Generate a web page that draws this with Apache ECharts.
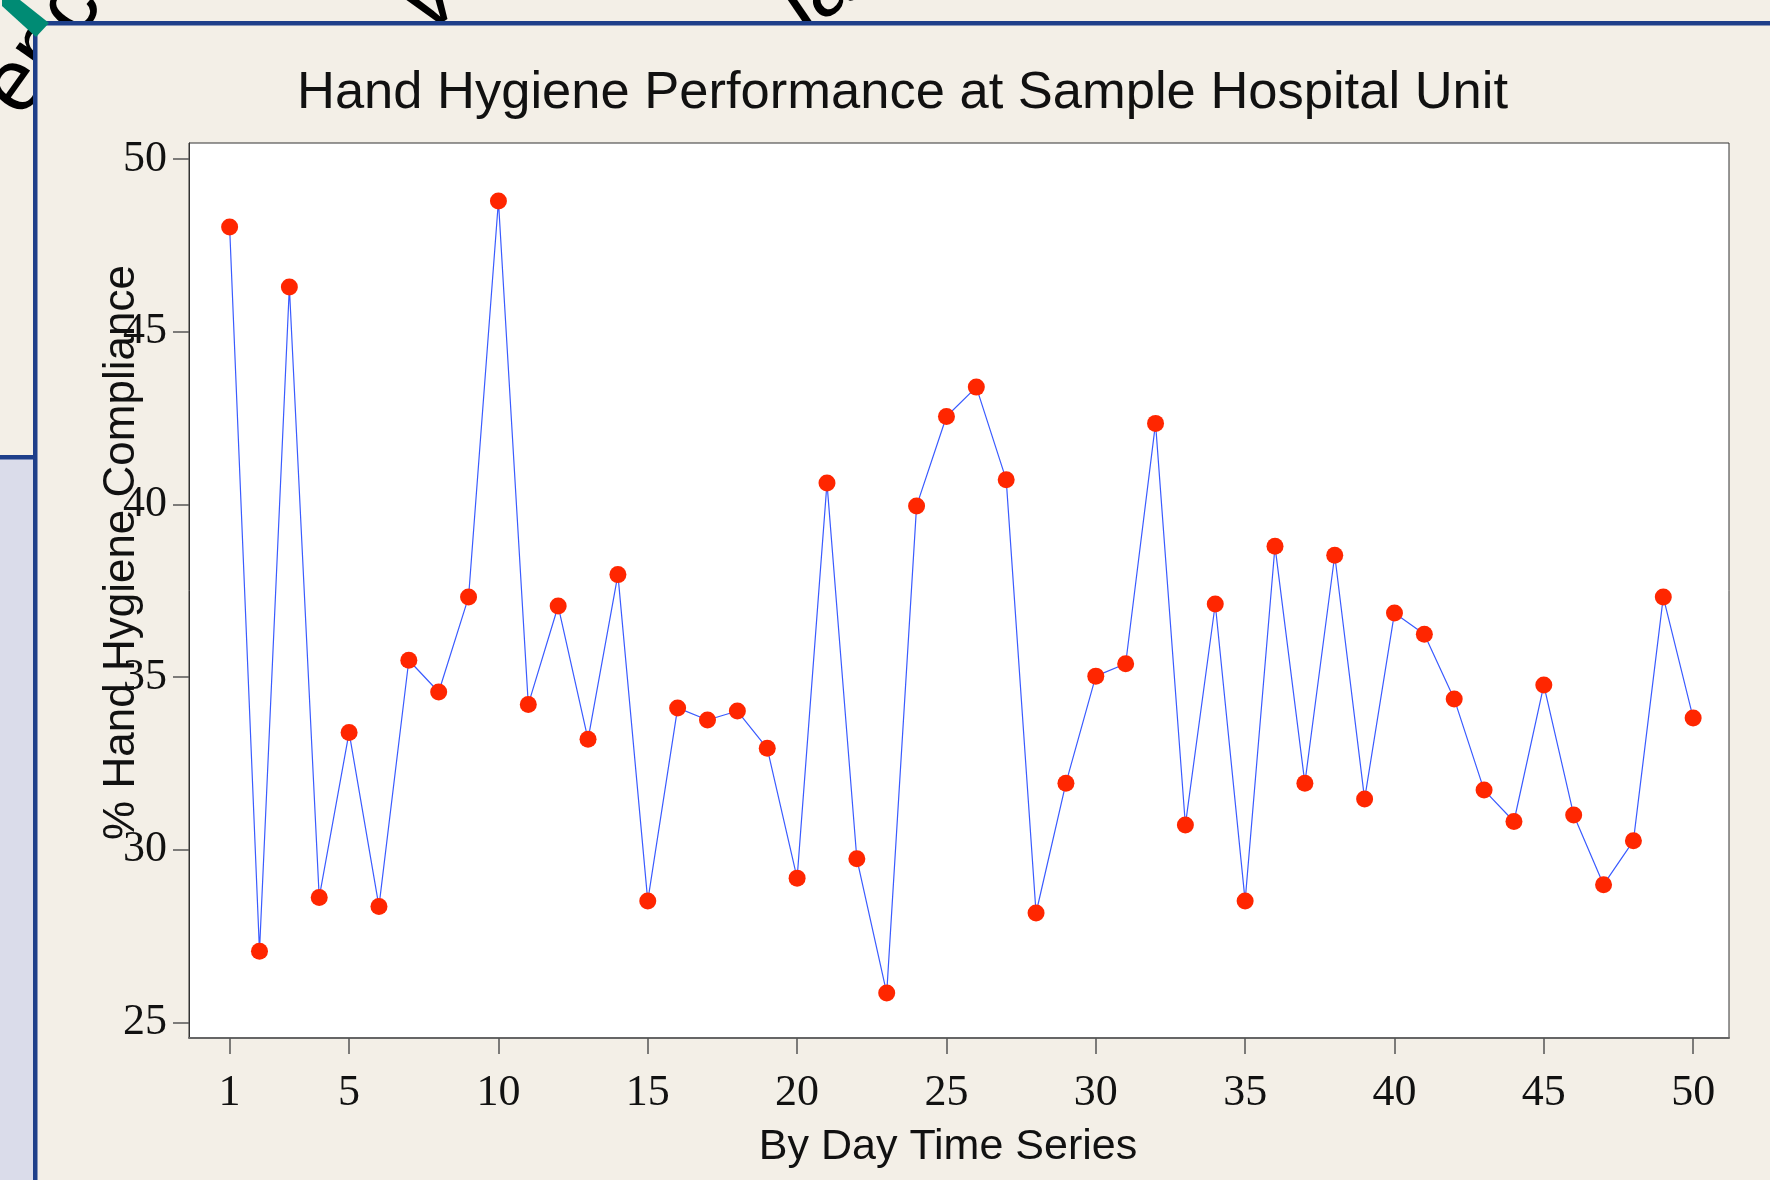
<!DOCTYPE html>
<html>
<head>
<meta charset="utf-8">
<title>Hand Hygiene Performance</title>
<script src="https://cdn.jsdelivr.net/npm/echarts@6/dist/echarts.min.js"></script>
<style>
  html, body { margin: 0; padding: 0; background: #F3EFE7; }
  #chart { width: 1770px; height: 1180px; }
</style>
</head>
<body>
<div id="chart"></div>
<script>
// day index and % compliance
const days = [1, 2, 3, 4, 5, 6, 7, 8, 9, 10,
  11, 12, 13, 14, 15, 16, 17, 18, 19, 20,
  21, 22, 23, 24, 25, 26, 27, 28, 29, 30,
  31, 32, 33, 34, 35, 36, 37, 38, 39, 40,
  41, 42, 43, 44, 45, 46, 47, 48, 49, 50];
const compliance = [48.04, 27.06, 46.30, 28.62, 33.40, 28.36, 35.49, 34.57, 37.32, 48.79,
  34.21, 37.06, 33.20, 37.97, 28.52, 34.11, 33.76, 34.02, 32.94, 29.18,
  40.62, 29.74, 25.85, 39.96, 42.55, 43.40, 40.72, 28.17, 31.93, 35.03,
  35.39, 42.35, 30.72, 37.12, 28.52, 38.79, 31.93, 38.53, 31.47, 36.86,
  36.24, 34.37, 31.73, 30.82, 34.77, 31.01, 28.99, 30.26, 37.32, 33.82];
const xTicks = [1, 5, 10, 15, 20, 25, 30, 35, 40, 45, 50];
const yTicks = [25, 30, 35, 40, 45, 50];

const chartDom = document.getElementById('chart');
const chart = echarts.init(chartDom);

const bg = '#F3EFE7';
const frameBlue = '#1E3F8A';

const option = {
  backgroundColor: bg,
  animation: false,
  title: {
    text: 'Hand Hygiene Performance at Sample Hospital Unit',
    left: 292,
    top: 62,
    textStyle: {
      fontFamily: 'Liberation Sans',
      fontWeight: 'normal',
      fontSize: 52.5,
      color: '#111'
    }
  },
  grid: {
    left: 189,
    top: 143,
    width: 1540,
    height: 895,
    show: true,
    backgroundColor: '#fff',
    borderColor: '#333',
    borderWidth: 1
  },
  xAxis: {
    type: 'value',
    min: -0.36,
    max: 51.2,
    name: 'By Day Time Series',
    nameLocation: 'middle',
    nameGap: 88,
    nameTextStyle: {
      fontFamily: 'Liberation Sans',
      fontSize: 43,
      color: '#111',
      padding: [0, 22, 0, 0]
    },
    axisLine: {onZero: false, lineStyle: {color: '#666', width: 2}},
    axisTick: {customValues: xTicks, length: 16, lineStyle: {color: '#555', width: 1.5}},
    axisLabel: {
      customValues: xTicks,
      margin: 33,
      fontFamily: 'Liberation Serif',
      fontSize: 44,
      color: '#111'
    },
    splitLine: {show: false}
  },
  yAxis: {
    type: 'value',
    min: 24.55,
    max: 50.47,
    name: '% Hand Hygiene Compliance',
    nameLocation: 'middle',
    nameGap: 45,
    nameMoveOverlap: false,
    nameTextStyle: {
      fontFamily: 'Liberation Sans',
      fontSize: 44,
      color: '#111',
      padding: [0, 0, 0, 76]
    },
    axisLine: {onZero: false, lineStyle: {color: '#333', width: 1}},
    axisTick: {customValues: yTicks, length: 16, lineStyle: {color: '#555', width: 1.5}},
    axisLabel: {
      customValues: yTicks,
      margin: 22,
      fontFamily: 'Liberation Serif',
      fontSize: 44,
      color: '#111'
    },
    splitLine: {show: false}
  },
  series: [{
    type: 'line',
    data: days.map((d, i) => [d, compliance[i]]),
    symbol: 'circle',
    symbolSize: 17,
    itemStyle: {color: '#FF2600'},
    lineStyle: {color: '#3A5BFF', width: 1.2}
  }],
  graphic: [
    // slide text peeking out behind the chart panel
    {type: 'text', x: -34, y: 80, rotation: 0.95, z: -30,
      style: {text: 'ence', font: '88px Liberation Sans', fill: '#000'}},
    {type: 'text', x: 437, y: 50, rotation: 0.6, z: -30,
      style: {text: 've', font: '88px Liberation Sans', fill: '#000', verticalAlign: 'bottom'}},
    {type: 'text', x: 815, y: 50, rotation: 0.6, z: -30,
      style: {text: 'la', font: '88px Liberation Sans', fill: '#000', verticalAlign: 'bottom'}},
    // panel that holds the chart
    {type: 'rect', z: -20, shape: {x: 36, y: 24, width: 1734, height: 1156}, style: {fill: bg}},
    // lavender side panel
    {type: 'rect', z: -20, shape: {x: 0, y: 459, width: 34, height: 721}, style: {fill: '#DADCEA'}},
    // blue frame lines
    {type: 'rect', z: -10, shape: {x: 33, y: 21, width: 1737, height: 4.5}, style: {fill: frameBlue}},
    {type: 'rect', z: -10, shape: {x: 33, y: 21, width: 4.5, height: 1159}, style: {fill: frameBlue}},
    {type: 'rect', z: -10, shape: {x: 0, y: 455, width: 36, height: 4.5}, style: {fill: frameBlue}},
    // teal corner piece
    {type: 'polygon', z: -5,
      shape: {points: [[2, 0], [20, 0], [49, 23], [36, 37], [2, 6]]},
      style: {fill: '#008B74'}}
  ]
};

chart.setOption(option);
</script>
</body>
</html>
